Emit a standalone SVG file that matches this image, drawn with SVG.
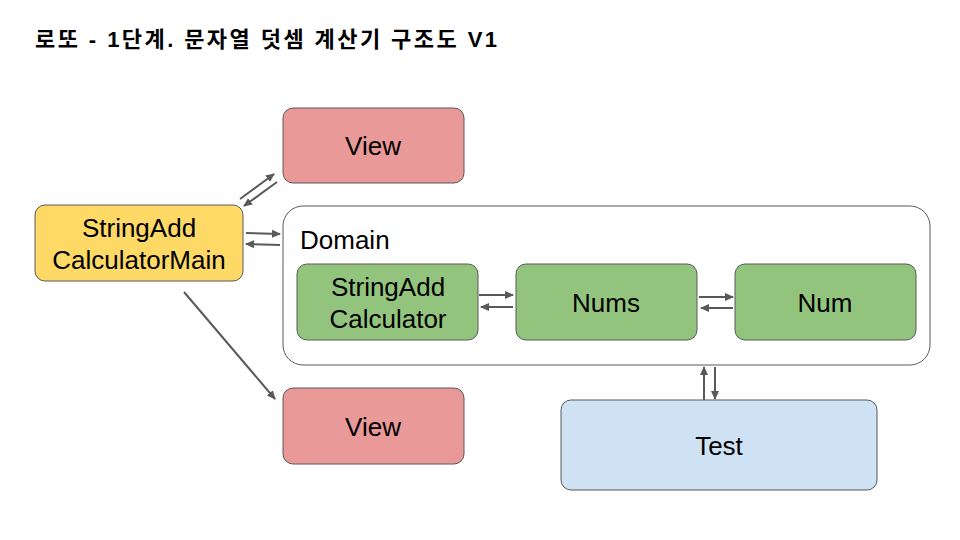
<svg xmlns="http://www.w3.org/2000/svg" width="960" height="540" viewBox="0 0 960 540">
<defs>
<marker id="ah" markerWidth="9" markerHeight="9" refX="8" refY="4.5" orient="auto" markerUnits="userSpaceOnUse">
<path d="M0,0.5 L9,4.5 L0,8.5 Z" fill="#595959"/>
</marker>
<style>
.n{stroke:#595959;stroke-width:1}
.t{font-family:"Liberation Sans",Arial,sans-serif;font-size:26px;fill:#000;text-anchor:middle}
.c{stroke:#595959;stroke-width:2;fill:none;marker-end:url(#ah)}
</style>
</defs>
<rect width="960" height="540" fill="#fff"/>
<text x="35" y="47" font-family="'Liberation Sans','Noto Sans CJK KR',sans-serif" font-size="22" font-weight="bold" textLength="462" lengthAdjust="spacing">로또 - 1단계. 문자열 덧셈 계산기 구조도 V1</text>
<g id="domain">
<rect class="n" x="283" y="206" width="647" height="159" rx="20" fill="#fff"/>
<text class="t" x="300" y="249" style="text-anchor:start">Domain</text>
</g>
<g id="view1">
<rect class="n" x="283" y="108" width="181" height="75" rx="10" fill="#ea9999"/>
<text class="t" x="373" y="155">View</text>
</g>
<g id="main">
<rect class="n" x="35" y="205" width="208" height="76" rx="10" fill="#ffd966"/>
<text class="t" x="139" y="237">StringAdd</text>
<text class="t" x="139" y="269">CalculatorMain</text>
</g>
<g id="calc">
<rect class="n" x="297" y="264" width="181" height="76" rx="10" fill="#93c47d"/>
<text class="t" x="388" y="296">StringAdd</text>
<text class="t" x="388" y="328">Calculator</text>
</g>
<g id="nums">
<rect class="n" x="516" y="264" width="181" height="76" rx="10" fill="#93c47d"/>
<text class="t" x="606" y="312">Nums</text>
</g>
<g id="num">
<rect class="n" x="735" y="264" width="181" height="76" rx="10" fill="#93c47d"/>
<text class="t" x="825" y="312">Num</text>
</g>
<g id="view2">
<rect class="n" x="283" y="388" width="181" height="76" rx="10" fill="#ea9999"/>
<text class="t" x="373" y="436">View</text>
</g>
<g id="test">
<rect class="n" x="561" y="400" width="316" height="90" rx="10" fill="#cfe2f3"/>
<text class="t" x="719" y="455">Test</text>
</g>
<g id="connectors">
<line class="c" x1="240" y1="199" x2="274" y2="174"/>
<line class="c" x1="277" y1="182" x2="244" y2="206"/>
<line class="c" x1="246" y1="233" x2="280" y2="234"/>
<line class="c" x1="280" y1="245" x2="246" y2="244"/>
<line class="c" x1="479" y1="295" x2="513" y2="295"/>
<line class="c" x1="513" y1="307" x2="481" y2="307"/>
<line class="c" x1="699" y1="297" x2="733" y2="297"/>
<line class="c" x1="733" y1="308" x2="701" y2="308"/>
<line class="c" x1="704" y1="400" x2="704" y2="367"/>
<line class="c" x1="715" y1="367" x2="715" y2="399"/>
<line class="c" x1="184" y1="292" x2="275" y2="399"/>
</g>
</svg>
